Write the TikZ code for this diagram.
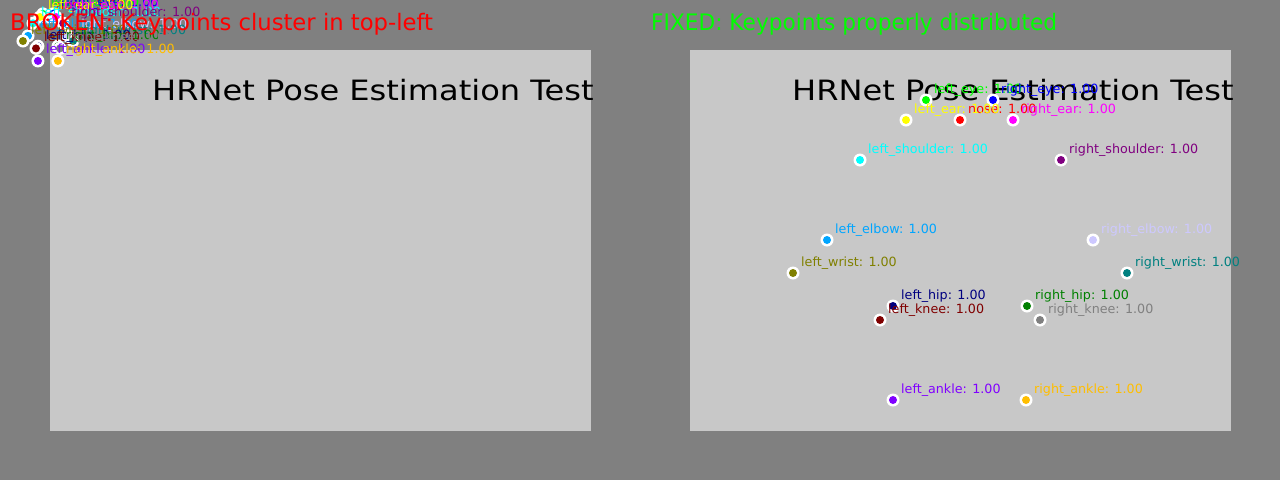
\documentclass[tikz,border=0pt]{standalone}
\usepackage{xcolor}
\usepackage{fontspec}
\setmainfont{DejaVu Sans}
\newfontfamily\titlefont[FakeStretch=1.145]{DejaVu Sans}
\newfontfamily\fixfont[FakeStretch=0.955]{DejaVu Sans}

\definecolor{bggray}{RGB}{128,128,128}
\definecolor{panelgray}{RGB}{200,200,200}
\definecolor{kpnose}{RGB}{255,0,0}
\definecolor{kpleye}{RGB}{0,255,0}
\definecolor{kpreye}{RGB}{0,0,255}
\definecolor{kplear}{RGB}{255,255,0}
\definecolor{kprear}{RGB}{255,0,255}
\definecolor{kplsho}{RGB}{0,255,255}
\definecolor{kprsho}{RGB}{128,0,128}
\definecolor{kplelb}{RGB}{0,165,255}
\definecolor{kprelb}{RGB}{205,200,255}
\definecolor{kplwri}{RGB}{128,128,0}
\definecolor{kprwri}{RGB}{0,128,128}
\definecolor{kplhip}{RGB}{0,0,128}
\definecolor{kprhip}{RGB}{0,128,0}
\definecolor{kplkne}{RGB}{128,0,0}
\definecolor{kprkne}{RGB}{128,128,128}
\definecolor{kplank}{RGB}{128,0,255}
\definecolor{kprank}{RGB}{255,190,0}

\tikzset{
    header/.style={anchor=base west, inner sep=0pt, font=\fontsize{22.7}{26}\selectfont},
    title/.style={anchor=base west, inner sep=0pt, text=black, font=\titlefont\fontsize{28}{32}\selectfont},
    kplabel/.style={anchor=base west, inner sep=0pt, font=\fontsize{12.7}{14}\selectfont},
}

\catcode`\_=12

\begin{document}
\begin{tikzpicture}[x=1pt,y=-1pt]
            \useasboundingbox (0,0) rectangle (1280,480);
            \fill[bggray] (0,0) rectangle (1280,480);
            \fill[panelgray] (50,50) rectangle (591,431);
            \fill[panelgray] (690,50) rectangle (1231,431);
            \node[title] (brk-title) at (152,100) {HRNet Pose Estimation Test};
            \node[title] (fix-title) at (792,100) {HRNet Pose Estimation Test};
            % keypoints squeezed into the corner
            \foreach \kp/\col/\px/\py in {nose/kpnose/270/70, left_eye/kpleye/236/50,
                    right_eye/kpreye/303/50, left_ear/kplear/216/70, right_ear/kprear/323/70,
                    left_shoulder/kplsho/170/110, right_shoulder/kprsho/371/110,
                    left_elbow/kplelb/137/190, right_elbow/kprelb/403/190,
                    left_wrist/kplwri/103/223, right_wrist/kprwri/437/223,
                    left_hip/kplhip/203/256, right_hip/kprhip/337/256,
                    left_knee/kplkne/190/270, right_knee/kprkne/350/270,
                    left_ankle/kplank/203/350, right_ankle/kprank/336/350}{
                \pgfmathsetmacro{\bx}{0.15*\px+7.5}
                \pgfmathsetmacro{\by}{0.157*\py+6}
                \fill[white] (\bx,\by) circle (6.5pt);
                \fill[\col] (\bx,\by) circle (4pt);
                \node[kplabel, text=\col] (brk-\kp) at (\bx+8,\by-7) {\kp: 1.00};
            }
            % keypoints spread over the image
            \foreach \kp/\col/\px/\py in {nose/kpnose/270/70, left_eye/kpleye/236/50,
                    right_eye/kpreye/303/50, left_ear/kplear/216/70, right_ear/kprear/323/70,
                    left_shoulder/kplsho/170/110, right_shoulder/kprsho/371/110,
                    left_elbow/kplelb/137/190, right_elbow/kprelb/403/190,
                    left_wrist/kplwri/103/223, right_wrist/kprwri/437/223,
                    left_hip/kplhip/203/256, right_hip/kprhip/337/256,
                    left_knee/kplkne/190/270, right_knee/kprkne/350/270,
                    left_ankle/kplank/203/350, right_ankle/kprank/336/350}{
                \fill[white] (690+\px,50+\py) circle (6.5pt);
                \fill[\col] (690+\px,50+\py) circle (4pt);
                \node[kplabel, text=\col] (fix-\kp) at (698+\px,43+\py) {\kp: 1.00};
            }
            \node[header, text=red] (brk-head) at (10,30) {BROKEN: Keypoints cluster in top-left};
            \node[header, text=green, font=\fixfont\fontsize{22.7}{26}\selectfont] (fix-head) at (651,30) {FIXED: Keypoints properly distributed};
\end{tikzpicture}
\end{document}
